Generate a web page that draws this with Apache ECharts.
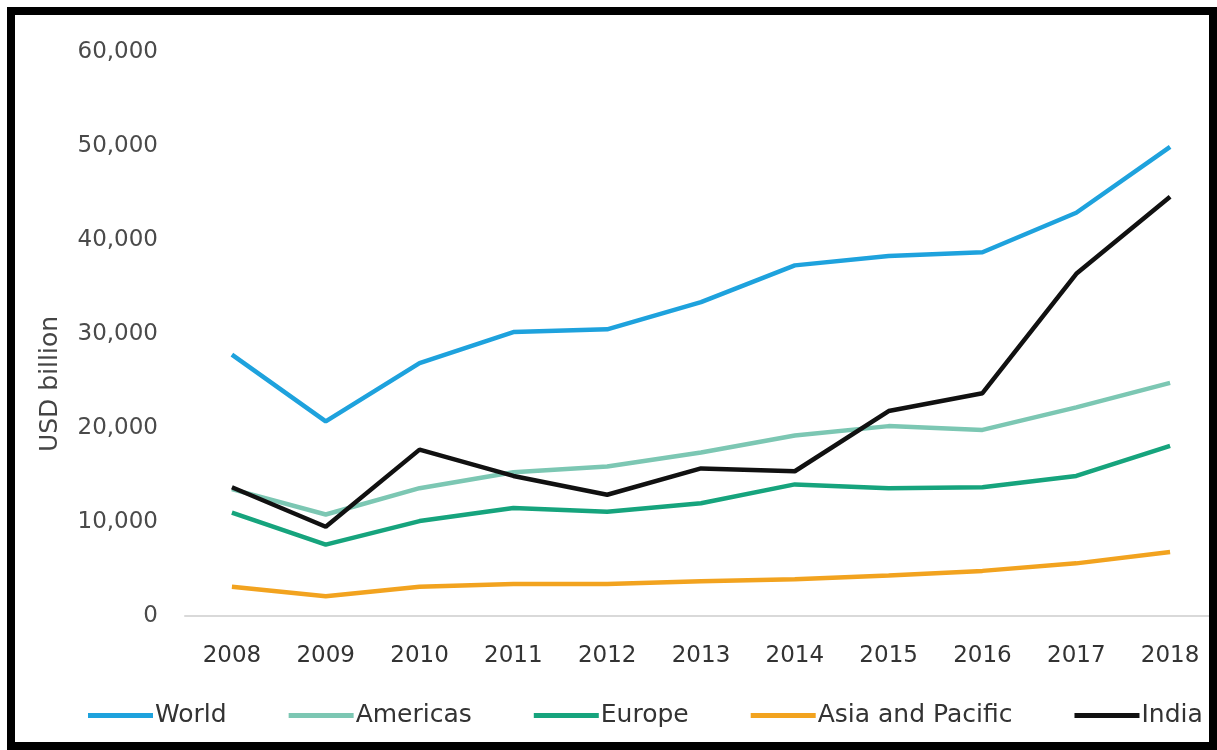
<!DOCTYPE html>
<html><head><meta charset="utf-8">
<script src="https://cdn.jsdelivr.net/npm/echarts@6/dist/echarts.min.js"></script>
<style>
html,body{margin:0;padding:0;background:#fff;overflow:hidden;}
#c{width:1217px;height:750px;}
#frame{position:absolute;left:7px;top:7px;width:1194px;height:727px;border:8px solid #000;pointer-events:none;box-sizing:content-box;}
</style></head>
<body>
<div id="c"></div>
<div id="frame"></div>
<script>
const years = ['2008','2009','2010','2011','2012','2013','2014','2015','2016','2017','2018'];
const world = [27800,20700,26900,30200,30500,33400,37300,38300,38700,42900,49900];
const americas = [13500,10800,13600,15300,15900,17400,19200,20200,19800,22200,24800];
const europe = [11000,7600,10100,11500,11100,12000,14000,13600,13700,14900,18100];
const asiaPacific = [3100,2100,3100,3400,3400,3700,3900,4300,4800,5600,6800];
const india = [13700,9500,17700,14900,12900,15700,15400,21800,23700,36400,44600];
const yTicks = [0,10000,20000,30000,40000,50000,60000];
const yTitle = 'USD billion';

const FONT = 'DejaVu Sans';
const chart = echarts.init(document.getElementById('c'));
function line(name, data, color){
  return {name, type:'line', data, symbol:'none', smooth:false,
    lineStyle:{color, width:4.5}, itemStyle:{color}};
}
chart.setOption({
  animation:false,
  textStyle:{fontFamily:FONT},
  grid:{left:185, right:0, top:52, bottom:134, containLabel:false},
  graphic:[{type:'text', rotation:Math.PI/2,
    style:{text:yTitle, fill:'#444', font:'25px "DejaVu Sans"', textAlign:'center', textVerticalAlign:'middle'},
    x:50, y:384}],
  xAxis:{type:'category', data:years, boundaryGap:true,
    axisLine:{lineStyle:{color:'#d9d9d9', width:2}},
    axisTick:{show:false},
    axisLabel:{color:'#333', fontSize:23, margin:29, fontFamily:FONT}},
  yAxis:{type:'value', min:yTicks[0], max:yTicks[yTicks.length-1], interval:10000,
    axisLine:{show:false}, axisTick:{show:false}, splitLine:{show:false},
    axisLabel:{color:'#4a4a4a', fontSize:23, margin:27, fontFamily:FONT,
      formatter:v=>v.toLocaleString('en-US')}},
  legend:{left:83, top:698, icon:'rect', itemWidth:65, itemHeight:5, itemGap:62,
    textStyle:{color:'#333', fontSize:25, fontFamily:FONT, padding:[0,0,0,-3]},
    data:['World','Americas','Europe','Asia and Pacific','India']},
  series:[
    line('World', world, '#1ea2dd'),
    line('Americas', americas, '#7cc7b3'),
    line('Europe', europe, '#16a47d'),
    line('Asia and Pacific', asiaPacific, '#f2a31f'),
    line('India', india, '#111111')
  ]
});
</script>
</body></html>
